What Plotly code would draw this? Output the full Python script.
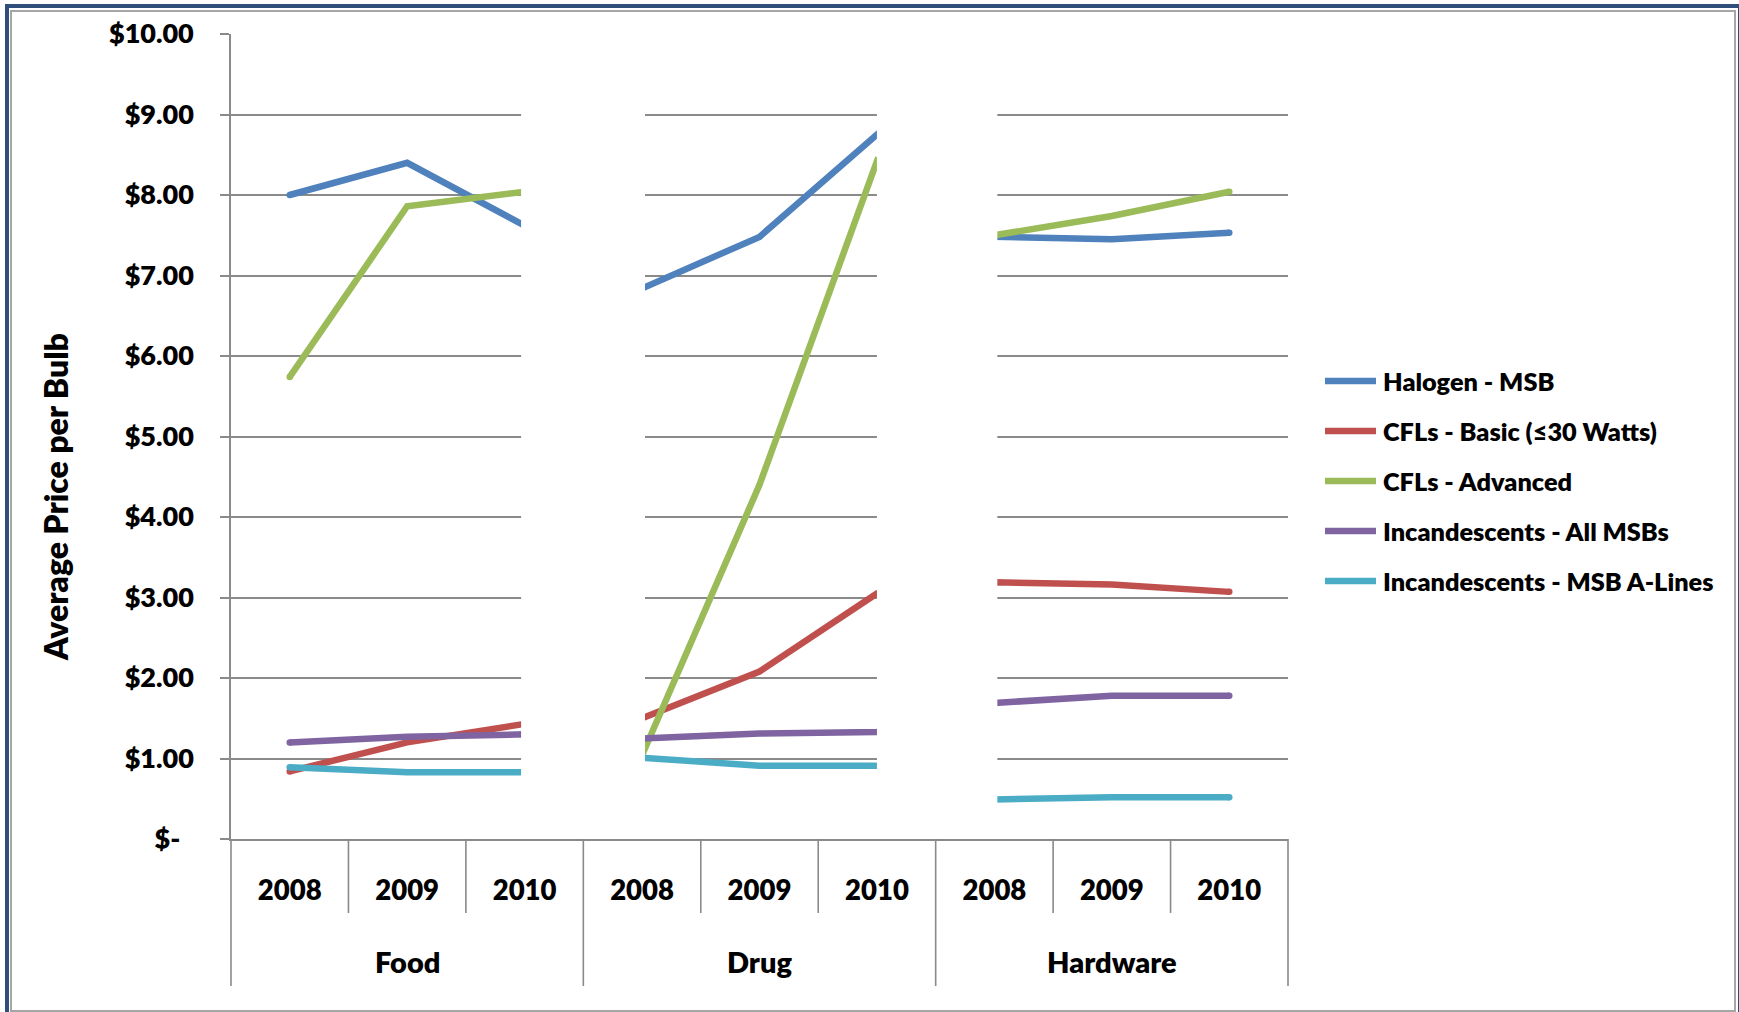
import plotly.graph_objects as go

# ---- data -------------------------------------------------------------
groups = ["Food", "Drug", "Hardware"]
years = ["2008", "2009", "2010"]

series_names = [
    "Halogen - MSB",
    "CFLs - Basic (≤30 Watts)",
    "CFLs - Advanced",
    "Incandescents - All MSBs",
    "Incandescents - MSB A-Lines",
]

# average price per bulb, ordered Food 2008..2010, Drug 2008..2010, Hardware 2008..2010
halogen_msb = [8.00, 8.40, 7.62, 6.84, 7.48, 8.75, 7.48, 7.45, 7.53]
cfl_basic = [0.84, 1.20, 1.43, 1.50, 2.08, 3.05, 3.19, 3.16, 3.07]
cfl_advanced = [5.74, 7.86, 8.04, 1.04, 4.40, 8.42, 7.50, 7.74, 8.04]
incand_all_msb = [1.20, 1.27, 1.30, 1.25, 1.31, 1.33, 1.69, 1.78, 1.78]
incand_a_lines = [0.89, 0.83, 0.83, 1.01, 0.91, 0.91, 0.49, 0.52, 0.52]

series_values = [halogen_msb, cfl_basic, cfl_advanced, incand_all_msb, incand_a_lines]
series_colors = ["#4F81BD", "#C0504D", "#9BBB59", "#8064A2", "#4BACC6"]

y_tick_values = list(range(0, 11))
y_tick_labels = ["$-\u2002"] + [f"${v}.00" for v in range(1, 11)]

# ---- geometry ---------------------------------------------------------
W, H = 1739, 1012
M_L, M_R, M_T, M_B = 231, 451, 34, 173
PW, PH = W - M_L - M_R, H - M_T - M_B

FONT = "Lato"
WEIGHT = 800
GREY = "#8A8A8A"


def px_x(px):
    return (px - M_L) / PW


def px_y(py):
    return (H - M_B - py) / PH


def font(size):
    return dict(family=FONT, size=size, color="black", weight=WEIGHT)


n_cat = len(groups) * len(years)
x_idx = list(range(n_cat))
x_labels = [y for _ in groups for y in years]

fig = go.Figure()

for name, vals, col in zip(series_names, series_values, series_colors):
    fig.add_trace(go.Scatter(
        x=x_idx, y=vals, name=name, mode="lines",
        line=dict(color=col, width=6.5),
        showlegend=False, hoverinfo="skip",
    ))
    # rounded ends of each series
    fig.add_trace(go.Scatter(
        x=[x_idx[0], x_idx[-1]], y=[vals[0], vals[-1]], mode="markers",
        marker=dict(color=col, size=6.5, line=dict(width=0)),
        showlegend=False, hoverinfo="skip",
    ))

shapes = []
annotations = []

# blank bands separating the store channels
n_y = len(years)
band_lead = [0.03, 0.0]
for g in range(1, len(groups)):
    shapes.append(dict(
        type="rect", xref="x", yref="y",
        x0=g * n_y - 1 - band_lead[g - 1], x1=g * n_y + 0.025, y0=0.03, y1=9.97,
        fillcolor="white", line=dict(width=0), layer="above",
    ))

# category dividers below the axis
for b in range(n_cat + 1):
    is_group_edge = b % n_y == 0
    shapes.append(dict(
        type="line", xref="paper", yref="paper",
        x0=b / n_cat, x1=b / n_cat,
        y0=0, y1=px_y(986 if is_group_edge else 913),
        line=dict(color=GREY, width=1.6),
    ))

# group labels
for gi, g in enumerate(groups):
    annotations.append(dict(
        text=g, xref="x", yref="paper", x=gi * n_y + (n_y - 1) / 2, y=px_y(962),
        showarrow=False, xanchor="center", yanchor="middle",
        font=font(29),
    ))

# y-axis title
annotations.append(dict(
    text="Average Price per Bulb", xref="paper", yref="paper",
    x=px_x(55), y=px_y(497), textangle=-90, showarrow=False,
    xanchor="center", yanchor="middle",
    font=font(32),
))

# legend
leg_y0, leg_step = 381, 50
for i, (name, col) in enumerate(zip(series_names, series_colors)):
    yy = px_y(leg_y0 + i * leg_step)
    shapes.append(dict(
        type="line", xref="paper", yref="paper",
        x0=px_x(1325), x1=px_x(1376), y0=yy, y1=yy,
        line=dict(color=col, width=6.5),
    ))
    annotations.append(dict(
        text=name, xref="paper", yref="paper", x=px_x(1381), y=yy,
        showarrow=False, xanchor="left", yanchor="middle",
        font=font(25.3),
    ))

# outer frame
shapes.append(dict(
    type="rect", xref="paper", yref="paper",
    x0=px_x(7), x1=px_x(1740), y0=px_y(6), y1=px_y(1016),
    line=dict(color="#2F4F7A", width=4), fillcolor="rgba(0,0,0,0)",
))
shapes.append(dict(
    type="rect", xref="paper", yref="paper",
    x0=px_x(11), x1=px_x(1735), y0=px_y(11), y1=px_y(1011),
    line=dict(color="#A6A6A6", width=2), fillcolor="rgba(0,0,0,0)",
))

fig.update_layout(
    width=W, height=H, autosize=False,
    margin=dict(l=M_L, r=M_R, t=M_T, b=M_B, pad=0),
    paper_bgcolor="white", plot_bgcolor="white",
    shapes=shapes, annotations=annotations,
    showlegend=False,
)

fig.update_xaxes(
    range=[-0.5, n_cat - 0.5], tickvals=x_idx, ticktext=x_labels,
    showgrid=False, zeroline=False, showline=True,
    linecolor=GREY, linewidth=2, ticks="",
    ticklabelstandoff=26,
    tickfont=font(27.5),
)
fig.update_yaxes(
    range=[0, 10], tickvals=y_tick_values, ticktext=y_tick_labels,
    showgrid=True, gridcolor=GREY, gridwidth=1.5,
    zeroline=False, showline=True, linecolor=GREY, linewidth=1.6,
    ticks="outside", ticklen=9, tickcolor=GREY, tickwidth=1.5,
    ticklabelstandoff=21,
    tickfont=font(27),
)

fig.write_html("out.html")
